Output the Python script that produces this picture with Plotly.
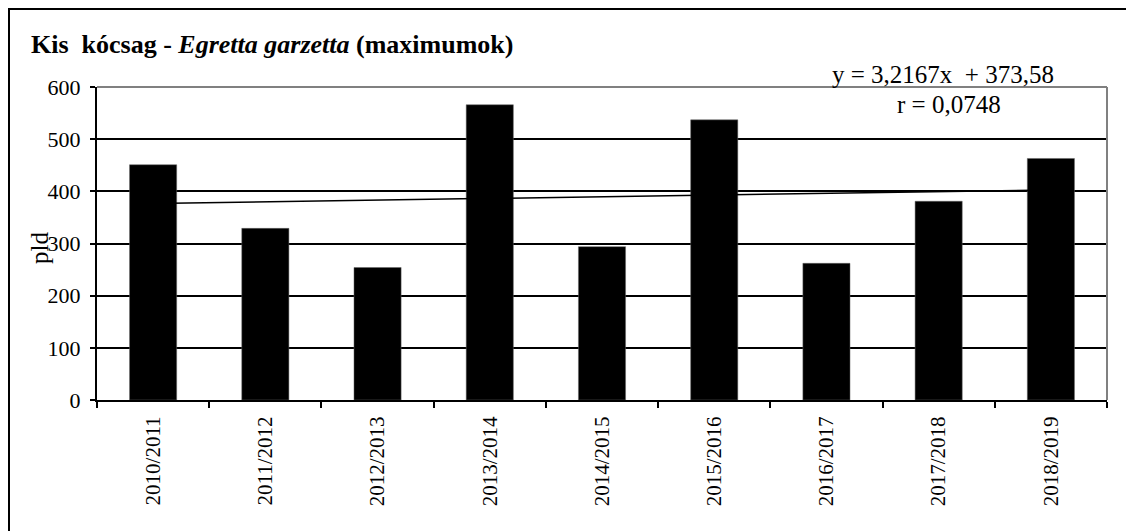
import plotly.graph_objects as go

seasons = ["2010/2011", "2011/2012", "2012/2013", "2013/2014", "2014/2015",
           "2015/2016", "2016/2017", "2017/2018", "2018/2019"]
counts = [451, 329, 254, 566, 294, 537, 262, 381, 463]
trend_slope = 3.2167
trend_intercept = 373.58
y_ticks = [0, 100, 200, 300, 400, 500, 600]

trend_y = [trend_slope * (i + 1) + trend_intercept for i in range(len(seasons))]

FONT = "Liberation Serif, Times New Roman, serif"

fig = go.Figure()
fig.add_trace(go.Scatter(x=seasons, y=trend_y, mode="lines",
                         line=dict(color="black", width=1.5), hoverinfo="skip"))
fig.add_trace(go.Bar(x=seasons, y=counts, marker=dict(color="black",
                     line=dict(color="#666666", width=0.5))))

OFF = 8  # page body margin
W, H = 1134 - OFF, 531 - OFF
PL, PT, PR, PB = 97, 87, 1107, 400  # plot area in screen pixels
L, T = PL - OFF, PT - OFF
R, B = W - (PR - OFF), H - (PB - OFF)
pw, ph = PR - PL, PB - PT

def px(x):
    return (x - PL) / pw

def py(y):
    return (PB - y) / ph

fig.update_layout(
    width=W, height=H,
    margin=dict(l=L, r=R, t=T, b=B),
    paper_bgcolor="white", plot_bgcolor="white",
    showlegend=False, bargap=0.58,
    font=dict(family=FONT, size=21, color="black"),
    xaxis=dict(type="category", tickangle=-90, showgrid=False,
               showline=True, linecolor="black", linewidth=2,
               ticks="outside", ticklen=6, tickwidth=1.5, tickcolor="black",
               tickson="boundaries", tickfont=dict(family=FONT, size=21),
               ticklabelstandoff=6, zeroline=False),
    yaxis=dict(range=[0, 600], tickvals=y_ticks, showgrid=True,
               gridcolor="black", gridwidth=1.5,
               showline=True, linecolor="black", linewidth=2,
               ticks="outside", ticklen=5, tickwidth=1.5, tickcolor="black",
               tickfont=dict(family=FONT, size=22), ticklabelstandoff=5,
               zeroline=False),
    shapes=[
        dict(type="line", xref="paper", yref="paper", x0=0, x1=1, y0=1, y1=1,
             line=dict(color="#808080", width=2)),
        dict(type="line", xref="paper", yref="paper", x0=1, x1=1, y0=0, y1=1,
             line=dict(color="#808080", width=2)),
        dict(type="rect", xref="paper", yref="paper",
             x0=px(9), x1=px(1160), y0=py(9), y1=py(560),
             line=dict(color="black", width=2), layer="below"),
    ],
    annotations=[
        dict(text="<b>Kis  kócsag - <i>Egretta garzetta</i> (maximumok)</b>",
             xref="paper", yref="paper", x=px(29), y=py(44),
             xanchor="left", yanchor="middle", showarrow=False,
             font=dict(family=FONT, size=26)),
        dict(text="pld", xref="paper", yref="paper", x=px(39), y=py(248),
             textangle=-90, xanchor="center", yanchor="middle", showarrow=False,
             font=dict(family=FONT, size=25)),
        dict(text="y = 3,2167x  + 373,58", xref="paper", yref="paper",
             x=px(943), y=py(74), xanchor="center", yanchor="middle",
             showarrow=False, font=dict(family=FONT, size=25)),
        dict(text="r = 0,0748", xref="paper", yref="paper",
             x=px(949), y=py(104), xanchor="center", yanchor="middle",
             showarrow=False, font=dict(family=FONT, size=25)),
    ],
)

fig.write_html("out.html")
